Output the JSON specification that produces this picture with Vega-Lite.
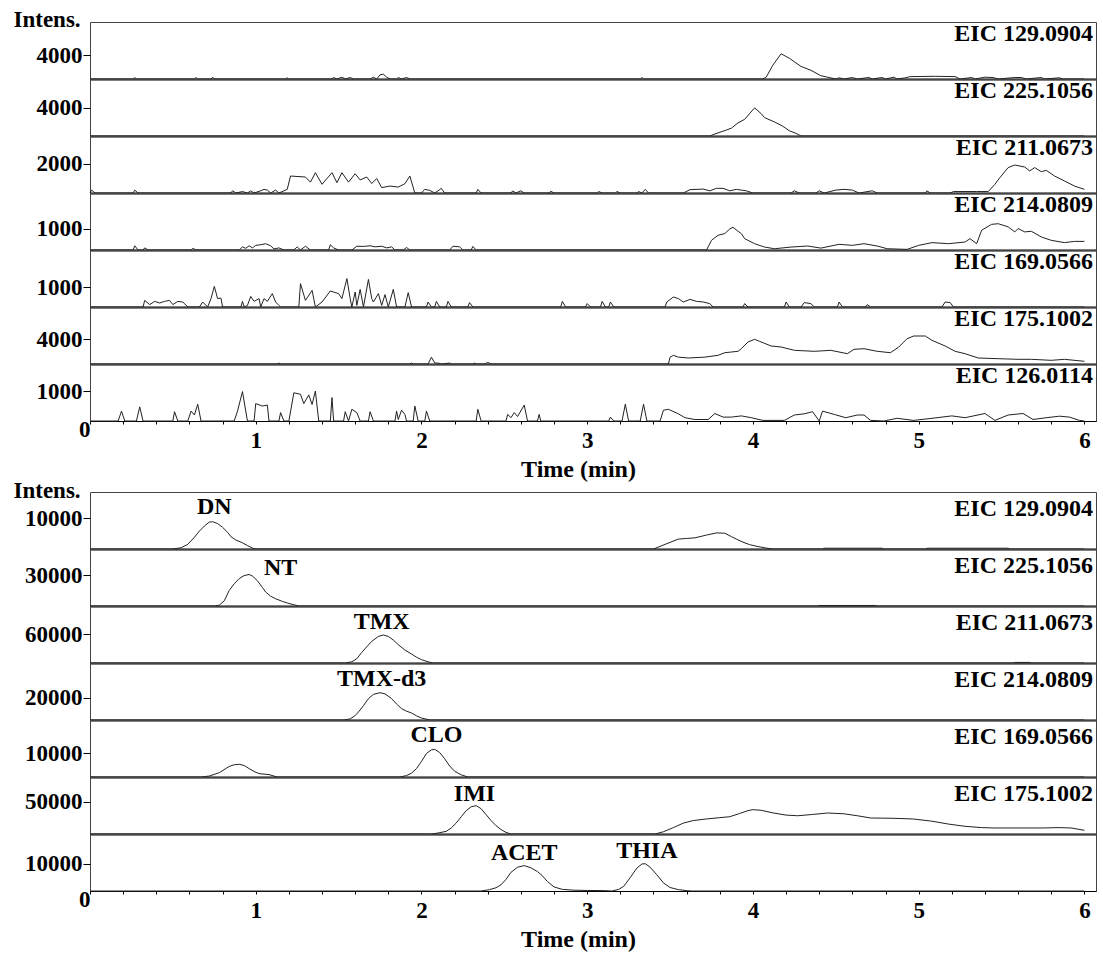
{
  "$schema": "https://vega.github.io/schema/vega-lite/v6.json",
  "padding": {"left": 12, "top": 7, "right": 5, "bottom": 5},
  "background": "white",
  "config": {
    "view": {"stroke": "#444", "strokeWidth": 1},
    "axis": {"grid": false, "labelFont": "Liberation Serif", "labelFontWeight": "bold", "labelColor": "black", "titleFont": "Liberation Serif", "titleFontWeight": "bold", "titleColor": "black", "tickColor": "black", "domainColor": "black"},
    "axisY": {"domain": false, "tickSize": 7, "labelPadding": 1, "labelFontSize": 23},
    "axisX": {"labels": false, "ticks": false, "domainWidth": 2},
    "line": {"color": "#222", "strokeWidth": 1},
    "text": {"font": "Liberation Serif", "fontWeight": "bold", "fontSize": 24, "color": "black"}
  },
  "datasets": {
    "t1": [{"t":0,"v":0},{"t":0.26,"v":0},{"t":0.27,"v":250},{"t":0.28,"v":0},{"t":0.63,"v":0},{"t":0.64,"v":250},{"t":0.65,"v":0},{"t":0.73,"v":0},{"t":0.74,"v":300},{"t":0.75,"v":0},{"t":1.18,"v":0},{"t":1.19,"v":200},{"t":1.2,"v":0},{"t":1.46,"v":0},{"t":1.47,"v":250},{"t":1.49,"v":0},{"t":1.52,"v":300},{"t":1.54,"v":0},{"t":1.57,"v":250},{"t":1.59,"v":0},{"t":1.69,"v":0},{"t":1.71,"v":300},{"t":1.73,"v":0},{"t":1.75,"v":700},{"t":1.77,"v":800},{"t":1.79,"v":300},{"t":1.81,"v":0},{"t":1.85,"v":0},{"t":1.86,"v":250},{"t":1.88,"v":0},{"t":1.91,"v":250},{"t":1.93,"v":0},{"t":3.32,"v":0},{"t":3.33,"v":250},{"t":3.34,"v":0},{"t":4.06,"v":0},{"t":4.08,"v":300},{"t":4.12,"v":2300},{"t":4.17,"v":4200},{"t":4.22,"v":3450},{"t":4.29,"v":2100},{"t":4.35,"v":1450},{"t":4.41,"v":550},{"t":4.45,"v":300},{"t":4.5,"v":0},{"t":4.52,"v":200},{"t":4.55,"v":0},{"t":4.6,"v":250},{"t":4.63,"v":0},{"t":4.7,"v":250},{"t":4.72,"v":0},{"t":4.78,"v":250},{"t":4.8,"v":0},{"t":4.85,"v":300},{"t":4.87,"v":0},{"t":4.92,"v":200},{"t":4.95,"v":400},{"t":5.1,"v":450},{"t":5.22,"v":400},{"t":5.25,"v":0},{"t":5.32,"v":250},{"t":5.34,"v":0},{"t":5.4,"v":300},{"t":5.45,"v":250},{"t":5.48,"v":0},{"t":5.58,"v":250},{"t":5.62,"v":250},{"t":5.65,"v":0},{"t":5.74,"v":250},{"t":5.76,"v":0},{"t":5.85,"v":200},{"t":5.87,"v":0},{"t":6.0,"v":0}],
    "t2": [{"t":0,"v":0},{"t":3.74,"v":0},{"t":3.77,"v":280},{"t":3.84,"v":840},{"t":3.87,"v":1100},{"t":3.91,"v":1840},{"t":3.95,"v":2340},{"t":4.01,"v":3950},{"t":4.05,"v":3130},{"t":4.07,"v":2580},{"t":4.13,"v":1970},{"t":4.18,"v":1380},{"t":4.22,"v":730},{"t":4.26,"v":370},{"t":4.29,"v":0},{"t":6.0,"v":0}],
    "t3": [{"t":0,"v":0},{"t":0.01,"v":200},{"t":0.03,"v":0},{"t":0.26,"v":0},{"t":0.27,"v":200},{"t":0.29,"v":0},{"t":0.85,"v":0},{"t":0.86,"v":150},{"t":0.88,"v":0},{"t":0.92,"v":100},{"t":0.95,"v":0},{"t":0.97,"v":150},{"t":0.99,"v":0},{"t":1.03,"v":150},{"t":1.05,"v":250},{"t":1.07,"v":200},{"t":1.09,"v":0},{"t":1.12,"v":200},{"t":1.14,"v":0},{"t":1.17,"v":150},{"t":1.19,"v":250},{"t":1.21,"v":1170},{"t":1.3,"v":1100},{"t":1.33,"v":750},{"t":1.36,"v":1400},{"t":1.4,"v":600},{"t":1.46,"v":1400},{"t":1.49,"v":710},{"t":1.52,"v":1400},{"t":1.56,"v":750},{"t":1.6,"v":1330},{"t":1.63,"v":900},{"t":1.67,"v":1100},{"t":1.7,"v":650},{"t":1.73,"v":1000},{"t":1.76,"v":370},{"t":1.81,"v":480},{"t":1.86,"v":410},{"t":1.9,"v":640},{"t":1.93,"v":1170},{"t":1.96,"v":0},{"t":2.0,"v":0},{"t":2.02,"v":250},{"t":2.05,"v":180},{"t":2.08,"v":0},{"t":2.1,"v":150},{"t":2.12,"v":320},{"t":2.14,"v":0},{"t":2.33,"v":0},{"t":2.34,"v":250},{"t":2.36,"v":0},{"t":2.54,"v":0},{"t":2.55,"v":140},{"t":2.57,"v":0},{"t":2.6,"v":150},{"t":2.62,"v":0},{"t":2.77,"v":0},{"t":2.78,"v":120},{"t":2.8,"v":0},{"t":3.06,"v":0},{"t":3.07,"v":100},{"t":3.09,"v":0},{"t":3.17,"v":0},{"t":3.18,"v":100},{"t":3.2,"v":0},{"t":3.3,"v":0},{"t":3.31,"v":100},{"t":3.33,"v":0},{"t":3.35,"v":250},{"t":3.37,"v":0},{"t":3.58,"v":0},{"t":3.62,"v":230},{"t":3.7,"v":270},{"t":3.74,"v":150},{"t":3.78,"v":320},{"t":3.82,"v":320},{"t":3.86,"v":150},{"t":3.9,"v":250},{"t":3.96,"v":150},{"t":4.0,"v":0},{"t":4.23,"v":0},{"t":4.25,"v":150},{"t":4.28,"v":0},{"t":4.38,"v":0},{"t":4.4,"v":150},{"t":4.43,"v":0},{"t":4.5,"v":200},{"t":4.55,"v":250},{"t":4.6,"v":200},{"t":4.64,"v":0},{"t":4.72,"v":150},{"t":4.75,"v":0},{"t":5.04,"v":0},{"t":5.05,"v":150},{"t":5.07,"v":0},{"t":5.19,"v":0},{"t":5.21,"v":100},{"t":5.35,"v":100},{"t":5.42,"v":100},{"t":5.46,"v":600},{"t":5.49,"v":1060},{"t":5.54,"v":1750},{"t":5.58,"v":1930},{"t":5.64,"v":1790},{"t":5.67,"v":1520},{"t":5.7,"v":1750},{"t":5.74,"v":1470},{"t":5.77,"v":1560},{"t":5.82,"v":1170},{"t":5.88,"v":830},{"t":5.94,"v":480},{"t":6.0,"v":250}],
    "t4": [{"t":0,"v":0},{"t":0.26,"v":0},{"t":0.27,"v":200},{"t":0.29,"v":0},{"t":0.32,"v":0},{"t":0.33,"v":100},{"t":0.35,"v":0},{"t":0.61,"v":0},{"t":0.62,"v":80},{"t":0.64,"v":0},{"t":0.9,"v":0},{"t":0.92,"v":150},{"t":0.94,"v":80},{"t":0.96,"v":200},{"t":0.98,"v":100},{"t":1.0,"v":220},{"t":1.03,"v":250},{"t":1.06,"v":300},{"t":1.09,"v":200},{"t":1.11,"v":50},{"t":1.14,"v":100},{"t":1.17,"v":0},{"t":1.23,"v":0},{"t":1.25,"v":150},{"t":1.27,"v":0},{"t":1.3,"v":180},{"t":1.33,"v":0},{"t":1.44,"v":0},{"t":1.45,"v":250},{"t":1.47,"v":100},{"t":1.5,"v":0},{"t":1.58,"v":0},{"t":1.61,"v":180},{"t":1.65,"v":170},{"t":1.69,"v":200},{"t":1.72,"v":150},{"t":1.76,"v":180},{"t":1.79,"v":100},{"t":1.82,"v":150},{"t":1.84,"v":0},{"t":1.89,"v":0},{"t":1.91,"v":120},{"t":1.93,"v":0},{"t":2.17,"v":0},{"t":2.19,"v":180},{"t":2.23,"v":150},{"t":2.25,"v":0},{"t":2.3,"v":0},{"t":2.31,"v":170},{"t":2.33,"v":0},{"t":3.72,"v":0},{"t":3.75,"v":460},{"t":3.79,"v":700},{"t":3.83,"v":780},{"t":3.86,"v":1000},{"t":3.88,"v":1080},{"t":3.91,"v":890},{"t":3.93,"v":780},{"t":3.95,"v":540},{"t":4.01,"v":300},{"t":4.07,"v":140},{"t":4.13,"v":60},{"t":4.23,"v":140},{"t":4.33,"v":190},{"t":4.41,"v":90},{"t":4.52,"v":270},{"t":4.6,"v":220},{"t":4.67,"v":300},{"t":4.75,"v":190},{"t":4.81,"v":60},{"t":4.93,"v":30},{"t":5.0,"v":220},{"t":5.08,"v":350},{"t":5.18,"v":300},{"t":5.28,"v":380},{"t":5.31,"v":540},{"t":5.35,"v":300},{"t":5.38,"v":940},{"t":5.44,"v":1220},{"t":5.48,"v":1250},{"t":5.54,"v":1100},{"t":5.58,"v":860},{"t":5.6,"v":1020},{"t":5.64,"v":860},{"t":5.68,"v":890},{"t":5.74,"v":620},{"t":5.8,"v":460},{"t":5.88,"v":350},{"t":5.94,"v":410},{"t":6.0,"v":410}],
    "t5": [{"t":0,"v":0},{"t":0.32,"v":0},{"t":0.33,"v":330},{"t":0.36,"v":120},{"t":0.39,"v":280},{"t":0.42,"v":200},{"t":0.45,"v":280},{"t":0.48,"v":330},{"t":0.5,"v":120},{"t":0.53,"v":280},{"t":0.56,"v":250},{"t":0.59,"v":0},{"t":0.66,"v":0},{"t":0.68,"v":250},{"t":0.71,"v":0},{"t":0.73,"v":420},{"t":0.75,"v":1030},{"t":0.77,"v":420},{"t":0.79,"v":450},{"t":0.8,"v":0},{"t":0.91,"v":0},{"t":0.92,"v":280},{"t":0.93,"v":0},{"t":0.95,"v":80},{"t":0.97,"v":530},{"t":0.99,"v":280},{"t":1.02,"v":420},{"t":1.03,"v":0},{"t":1.05,"v":420},{"t":1.07,"v":280},{"t":1.1,"v":670},{"t":1.12,"v":250},{"t":1.14,"v":80},{"t":1.15,"v":0},{"t":1.26,"v":0},{"t":1.27,"v":1170},{"t":1.3,"v":330},{"t":1.34,"v":830},{"t":1.36,"v":0},{"t":1.4,"v":250},{"t":1.45,"v":800},{"t":1.5,"v":670},{"t":1.52,"v":420},{"t":1.55,"v":1420},{"t":1.57,"v":420},{"t":1.58,"v":0},{"t":1.6,"v":750},{"t":1.61,"v":80},{"t":1.63,"v":880},{"t":1.65,"v":0},{"t":1.68,"v":1380},{"t":1.7,"v":420},{"t":1.71,"v":250},{"t":1.74,"v":670},{"t":1.76,"v":80},{"t":1.78,"v":620},{"t":1.8,"v":0},{"t":1.83,"v":880},{"t":1.85,"v":0},{"t":1.9,"v":0},{"t":1.92,"v":720},{"t":1.94,"v":0},{"t":2.03,"v":0},{"t":2.04,"v":250},{"t":2.06,"v":0},{"t":2.08,"v":0},{"t":2.09,"v":280},{"t":2.11,"v":0},{"t":2.15,"v":0},{"t":2.16,"v":280},{"t":2.18,"v":0},{"t":2.28,"v":0},{"t":2.29,"v":220},{"t":2.31,"v":0},{"t":2.84,"v":0},{"t":2.85,"v":280},{"t":2.87,"v":0},{"t":2.99,"v":0},{"t":3.0,"v":170},{"t":3.02,"v":0},{"t":3.08,"v":0},{"t":3.09,"v":280},{"t":3.11,"v":0},{"t":3.13,"v":0},{"t":3.14,"v":250},{"t":3.16,"v":0},{"t":3.47,"v":0},{"t":3.48,"v":250},{"t":3.52,"v":500},{"t":3.55,"v":420},{"t":3.58,"v":250},{"t":3.62,"v":380},{"t":3.66,"v":280},{"t":3.7,"v":250},{"t":3.74,"v":170},{"t":3.76,"v":0},{"t":3.94,"v":0},{"t":3.95,"v":170},{"t":3.97,"v":0},{"t":4.19,"v":0},{"t":4.2,"v":250},{"t":4.22,"v":0},{"t":4.29,"v":0},{"t":4.31,"v":220},{"t":4.35,"v":170},{"t":4.37,"v":0},{"t":4.51,"v":0},{"t":4.52,"v":250},{"t":4.54,"v":0},{"t":4.68,"v":0},{"t":4.69,"v":120},{"t":4.71,"v":0},{"t":5.14,"v":0},{"t":5.16,"v":250},{"t":5.19,"v":220},{"t":5.21,"v":0},{"t":6.0,"v":0}],
    "t6": [{"t":0,"v":0},{"t":1.13,"v":0},{"t":1.14,"v":160},{"t":1.15,"v":0},{"t":1.93,"v":0},{"t":1.94,"v":150},{"t":1.95,"v":0},{"t":2.04,"v":0},{"t":2.06,"v":1100},{"t":2.08,"v":150},{"t":2.1,"v":150},{"t":2.12,"v":0},{"t":2.17,"v":150},{"t":2.18,"v":0},{"t":2.31,"v":0},{"t":2.32,"v":150},{"t":2.33,"v":0},{"t":2.38,"v":0},{"t":2.4,"v":250},{"t":2.42,"v":0},{"t":3.49,"v":0},{"t":3.5,"v":1100},{"t":3.52,"v":1390},{"t":3.55,"v":1100},{"t":3.61,"v":960},{"t":3.71,"v":1100},{"t":3.79,"v":1390},{"t":3.83,"v":1810},{"t":3.87,"v":1920},{"t":3.91,"v":2030},{"t":3.93,"v":2450},{"t":3.97,"v":3520},{"t":4.01,"v":3950},{"t":4.04,"v":3630},{"t":4.11,"v":2880},{"t":4.17,"v":2720},{"t":4.25,"v":2190},{"t":4.37,"v":2030},{"t":4.47,"v":2190},{"t":4.57,"v":1650},{"t":4.61,"v":2350},{"t":4.67,"v":2450},{"t":4.75,"v":2030},{"t":4.83,"v":1810},{"t":4.88,"v":2720},{"t":4.93,"v":4050},{"t":4.97,"v":4480},{"t":5.04,"v":4480},{"t":5.08,"v":3790},{"t":5.16,"v":2880},{"t":5.22,"v":2030},{"t":5.28,"v":1650},{"t":5.36,"v":960},{"t":5.48,"v":850},{"t":5.6,"v":750},{"t":5.68,"v":750},{"t":5.8,"v":590},{"t":5.88,"v":750},{"t":6.0,"v":430}],
    "t7": [{"t":0,"v":0},{"t":0.17,"v":0},{"t":0.19,"v":330},{"t":0.21,"v":0},{"t":0.28,"v":0},{"t":0.3,"v":470},{"t":0.32,"v":0},{"t":0.5,"v":0},{"t":0.51,"v":310},{"t":0.53,"v":0},{"t":0.59,"v":0},{"t":0.61,"v":330},{"t":0.63,"v":200},{"t":0.65,"v":560},{"t":0.67,"v":0},{"t":0.87,"v":0},{"t":0.89,"v":330},{"t":0.92,"v":980},{"t":0.95,"v":0},{"t":0.99,"v":0},{"t":1.0,"v":580},{"t":1.04,"v":500},{"t":1.07,"v":530},{"t":1.08,"v":0},{"t":1.14,"v":0},{"t":1.15,"v":280},{"t":1.17,"v":0},{"t":1.2,"v":0},{"t":1.23,"v":940},{"t":1.27,"v":890},{"t":1.29,"v":580},{"t":1.32,"v":870},{"t":1.34,"v":550},{"t":1.36,"v":1000},{"t":1.38,"v":0},{"t":1.45,"v":0},{"t":1.46,"v":780},{"t":1.47,"v":0},{"t":1.53,"v":0},{"t":1.54,"v":310},{"t":1.56,"v":0},{"t":1.58,"v":390},{"t":1.61,"v":280},{"t":1.63,"v":0},{"t":1.68,"v":0},{"t":1.69,"v":310},{"t":1.71,"v":0},{"t":1.84,"v":0},{"t":1.85,"v":330},{"t":1.86,"v":50},{"t":1.88,"v":360},{"t":1.9,"v":220},{"t":1.91,"v":0},{"t":1.95,"v":0},{"t":1.96,"v":500},{"t":1.98,"v":0},{"t":2.02,"v":0},{"t":2.03,"v":330},{"t":2.05,"v":0},{"t":2.33,"v":0},{"t":2.34,"v":390},{"t":2.36,"v":0},{"t":2.51,"v":0},{"t":2.52,"v":220},{"t":2.54,"v":110},{"t":2.56,"v":280},{"t":2.58,"v":150},{"t":2.62,"v":530},{"t":2.64,"v":0},{"t":2.7,"v":0},{"t":2.71,"v":220},{"t":2.72,"v":0},{"t":3.13,"v":0},{"t":3.14,"v":130},{"t":3.16,"v":0},{"t":3.21,"v":0},{"t":3.23,"v":560},{"t":3.25,"v":0},{"t":3.32,"v":0},{"t":3.34,"v":560},{"t":3.36,"v":0},{"t":3.44,"v":0},{"t":3.46,"v":360},{"t":3.49,"v":390},{"t":3.55,"v":240},{"t":3.59,"v":110},{"t":3.65,"v":50},{"t":3.73,"v":50},{"t":3.77,"v":250},{"t":3.82,"v":130},{"t":3.87,"v":130},{"t":3.93,"v":170},{"t":3.99,"v":110},{"t":4.06,"v":20},{"t":4.19,"v":20},{"t":4.25,"v":200},{"t":4.31,"v":240},{"t":4.36,"v":310},{"t":4.4,"v":0},{"t":4.42,"v":330},{"t":4.49,"v":220},{"t":4.56,"v":110},{"t":4.63,"v":200},{"t":4.67,"v":200},{"t":4.71,"v":20},{"t":4.79,"v":0},{"t":4.87,"v":90},{"t":4.97,"v":20},{"t":5.08,"v":90},{"t":5.2,"v":170},{"t":5.28,"v":110},{"t":5.4,"v":250},{"t":5.46,"v":20},{"t":5.54,"v":200},{"t":5.63,"v":250},{"t":5.69,"v":50},{"t":5.77,"v":110},{"t":5.85,"v":160},{"t":5.91,"v":130},{"t":5.97,"v":20},{"t":6.0,"v":0}],
    "b1": [{"t":0,"v":0},{"t":0.5,"v":0},{"t":0.55,"v":400},{"t":0.59,"v":1500},{"t":0.63,"v":3800},{"t":0.66,"v":5800},{"t":0.69,"v":7400},{"t":0.72,"v":8700},{"t":0.74,"v":8800},{"t":0.77,"v":8200},{"t":0.8,"v":7000},{"t":0.83,"v":5400},{"t":0.85,"v":4000},{"t":0.88,"v":2900},{"t":0.92,"v":2000},{"t":0.95,"v":1100},{"t":0.98,"v":300},{"t":1.0,"v":0},{"t":3.4,"v":0},{"t":3.47,"v":1500},{"t":3.55,"v":3200},{"t":3.6,"v":3400},{"t":3.65,"v":3600},{"t":3.72,"v":4500},{"t":3.78,"v":5200},{"t":3.83,"v":5100},{"t":3.87,"v":4000},{"t":3.9,"v":3200},{"t":3.94,"v":2200},{"t":3.98,"v":1400},{"t":4.03,"v":800},{"t":4.08,"v":300},{"t":4.12,"v":0},{"t":4.42,"v":0},{"t":4.43,"v":250},{"t":4.78,"v":250},{"t":4.79,"v":0},{"t":5.04,"v":0},{"t":5.05,"v":250},{"t":5.54,"v":250},{"t":5.55,"v":0},{"t":6.0,"v":0}],
    "b2": [{"t":0,"v":0},{"t":0.75,"v":0},{"t":0.78,"v":800},{"t":0.81,"v":5000},{"t":0.84,"v":15000},{"t":0.87,"v":21500},{"t":0.9,"v":26500},{"t":0.93,"v":29500},{"t":0.96,"v":30500},{"t":0.98,"v":29000},{"t":1.01,"v":24500},{"t":1.04,"v":18000},{"t":1.06,"v":13500},{"t":1.09,"v":9500},{"t":1.12,"v":7000},{"t":1.16,"v":4500},{"t":1.19,"v":2900},{"t":1.23,"v":1200},{"t":1.26,"v":0},{"t":4.39,"v":0},{"t":4.4,"v":500},{"t":4.74,"v":500},{"t":4.75,"v":0},{"t":6.0,"v":0}],
    "b3": [{"t":0,"v":0},{"t":1.54,"v":0},{"t":1.58,"v":2500},{"t":1.61,"v":9000},{"t":1.64,"v":22000},{"t":1.67,"v":33500},{"t":1.7,"v":44800},{"t":1.74,"v":55000},{"t":1.77,"v":58000},{"t":1.8,"v":55000},{"t":1.83,"v":47600},{"t":1.86,"v":38000},{"t":1.9,"v":26900},{"t":1.94,"v":18600},{"t":1.97,"v":12000},{"t":2.0,"v":6900},{"t":2.04,"v":2500},{"t":2.07,"v":0},{"t":5.57,"v":0},{"t":5.58,"v":1200},{"t":5.67,"v":1200},{"t":5.68,"v":0},{"t":6.0,"v":0}],
    "b4": [{"t":0,"v":0},{"t":1.53,"v":0},{"t":1.57,"v":1000},{"t":1.6,"v":4000},{"t":1.62,"v":7300},{"t":1.65,"v":13000},{"t":1.68,"v":19400},{"t":1.71,"v":23300},{"t":1.75,"v":24800},{"t":1.78,"v":23800},{"t":1.82,"v":19400},{"t":1.85,"v":14500},{"t":1.88,"v":10300},{"t":1.91,"v":8000},{"t":1.94,"v":6400},{"t":1.97,"v":3800},{"t":2.0,"v":1800},{"t":2.05,"v":0},{"t":6.0,"v":0}],
    "b5": [{"t":0,"v":0},{"t":0.67,"v":0},{"t":0.72,"v":400},{"t":0.78,"v":1800},{"t":0.84,"v":4400},{"t":0.87,"v":5100},{"t":0.9,"v":5300},{"t":0.93,"v":4800},{"t":0.96,"v":3500},{"t":0.99,"v":2300},{"t":1.02,"v":1400},{"t":1.08,"v":1000},{"t":1.13,"v":0},{"t":1.87,"v":0},{"t":1.91,"v":600},{"t":1.94,"v":1600},{"t":1.97,"v":3500},{"t":2.0,"v":6500},{"t":2.03,"v":9800},{"t":2.06,"v":11300},{"t":2.08,"v":11500},{"t":2.11,"v":10200},{"t":2.14,"v":7600},{"t":2.17,"v":4600},{"t":2.2,"v":2400},{"t":2.24,"v":900},{"t":2.28,"v":0},{"t":6.0,"v":0}],
    "b6": [{"t":0,"v":0},{"t":2.06,"v":0},{"t":2.1,"v":1500},{"t":2.15,"v":4200},{"t":2.18,"v":9500},{"t":2.21,"v":17200},{"t":2.24,"v":27000},{"t":2.27,"v":36500},{"t":2.3,"v":42500},{"t":2.33,"v":44300},{"t":2.36,"v":39500},{"t":2.39,"v":30200},{"t":2.42,"v":21000},{"t":2.45,"v":13000},{"t":2.48,"v":7000},{"t":2.51,"v":2500},{"t":2.54,"v":0},{"t":3.41,"v":0},{"t":3.46,"v":3500},{"t":3.52,"v":10000},{"t":3.58,"v":17000},{"t":3.64,"v":21000},{"t":3.72,"v":23500},{"t":3.8,"v":25500},{"t":3.86,"v":27000},{"t":3.92,"v":32000},{"t":3.97,"v":36500},{"t":4.0,"v":38000},{"t":4.05,"v":37000},{"t":4.12,"v":33000},{"t":4.2,"v":29500},{"t":4.27,"v":28500},{"t":4.36,"v":30500},{"t":4.45,"v":32800},{"t":4.55,"v":31500},{"t":4.63,"v":28500},{"t":4.71,"v":25000},{"t":4.85,"v":24500},{"t":4.97,"v":23400},{"t":5.08,"v":20000},{"t":5.18,"v":15500},{"t":5.28,"v":12000},{"t":5.38,"v":10000},{"t":5.45,"v":9400},{"t":5.6,"v":9400},{"t":5.75,"v":9400},{"t":5.84,"v":10000},{"t":5.92,"v":9400},{"t":6.0,"v":5800}],
    "b7": [{"t":0,"v":0},{"t":2.36,"v":0},{"t":2.41,"v":500},{"t":2.45,"v":1200},{"t":2.48,"v":2300},{"t":2.51,"v":4300},{"t":2.54,"v":6900},{"t":2.58,"v":8800},{"t":2.62,"v":9400},{"t":2.66,"v":8600},{"t":2.7,"v":7200},{"t":2.73,"v":5600},{"t":2.76,"v":3500},{"t":2.8,"v":1500},{"t":2.85,"v":600},{"t":2.92,"v":300},{"t":3.0,"v":200},{"t":3.1,"v":150},{"t":3.15,"v":0},{"t":3.19,"v":600},{"t":3.22,"v":1700},{"t":3.26,"v":5000},{"t":3.3,"v":8500},{"t":3.33,"v":10000},{"t":3.35,"v":10100},{"t":3.38,"v":8800},{"t":3.42,"v":6000},{"t":3.46,"v":3000},{"t":3.5,"v":1300},{"t":3.55,"v":500},{"t":3.6,"v":150},{"t":3.63,"v":0},{"t":6.0,"v":0}],
    "peaks": [
      {"s":"b1","name":"DN","t":0.75,"v":13550},
      {"s":"b2","name":"NT","t":1.15,"v":36770},
      {"s":"b3","name":"TMX","t":1.76,"v":84800},
      {"s":"b4","name":"TMX-d3","t":1.76,"v":37300},
      {"s":"b5","name":"CLO","t":2.09,"v":17500},
      {"s":"b6","name":"IMI","t":2.32,"v":62500},
      {"s":"b7","name":"ACET","t":2.62,"v":14070},
      {"s":"b7","name":"THIA","t":3.36,"v":14800}
    ],
    "eic": [
      {"s":"t1","label":"EIC 129.0904"},{"s":"t2","label":"EIC 225.1056"},{"s":"t3","label":"EIC 211.0673"},{"s":"t4","label":"EIC 214.0809"},
      {"s":"t5","label":"EIC 169.0566"},{"s":"t6","label":"EIC 175.1002"},{"s":"t7","label":"EIC 126.0114"},
      {"s":"b1","label":"EIC 129.0904"},{"s":"b2","label":"EIC 225.1056"},{"s":"b3","label":"EIC 211.0673"},{"s":"b4","label":"EIC 214.0809"},
      {"s":"b5","label":"EIC 169.0566"},{"s":"b6","label":"EIC 175.1002"},{"s":"b7","label":"EIC 126.0114"}
    ]
  },
  "spacing": -4,
  "vconcat": [
    {
      "spacing": 0,
      "bounds": "flush",
      "resolve": {"scale": {"x": "independent", "y": "independent"}},
      "vconcat": [
        {"width": 1006, "height": 57, "layer": [
          {"data": {"name": "t1"}, "mark": "line", "encoding": {
            "x": {"field": "t", "type": "quantitative", "scale": {"domain": [0, 6.07], "nice": false, "zero": false}, "axis": {"title": null}},
            "y": {"field": "v", "type": "quantitative", "scale": {"domain": [0, 9500], "nice": false}, "axis": {"values": [4000], "format": "d", "title": "Intens.", "titleAngle": 0, "titleAlign": "left", "titleBaseline": "alphabetic", "titleX": -77, "titleY": 4, "titleFontSize": 23}}}},
          {"data": {"name": "eic"}, "transform": [{"filter": "datum.s === 't1'"}], "mark": {"type": "text", "align": "right", "baseline": "top", "dx": -3, "dy": 0}, "encoding": {"text": {"field": "label"}, "x": {"datum": 6.07}, "y": {"datum": 9500}}}
        ]},
        {"width": 1006, "height": 57, "layer": [
          {"data": {"name": "t2"}, "mark": "line", "encoding": {
            "x": {"field": "t", "type": "quantitative", "scale": {"domain": [0, 6.07], "nice": false, "zero": false}, "axis": {"title": null}},
            "y": {"field": "v", "type": "quantitative", "scale": {"domain": [0, 8000], "nice": false}, "axis": {"values": [4000], "format": "d", "title": null}}}},
          {"data": {"name": "eic"}, "transform": [{"filter": "datum.s === 't2'"}], "mark": {"type": "text", "align": "right", "baseline": "top", "dx": -3, "dy": 0}, "encoding": {"text": {"field": "label"}, "x": {"datum": 6.07}, "y": {"datum": 8000}}}
        ]},
        {"width": 1006, "height": 57, "layer": [
          {"data": {"name": "t3"}, "mark": "line", "encoding": {
            "x": {"field": "t", "type": "quantitative", "scale": {"domain": [0, 6.07], "nice": false, "zero": false}, "axis": {"title": null}},
            "y": {"field": "v", "type": "quantitative", "scale": {"domain": [0, 3930], "nice": false}, "axis": {"values": [2000], "format": "d", "title": null}}}},
          {"data": {"name": "eic"}, "transform": [{"filter": "datum.s === 't3'"}], "mark": {"type": "text", "align": "right", "baseline": "top", "dx": -3, "dy": 0}, "encoding": {"text": {"field": "label"}, "x": {"datum": 6.07}, "y": {"datum": 3930}}}
        ]},
        {"width": 1006, "height": 57, "layer": [
          {"data": {"name": "t4"}, "mark": "line", "encoding": {
            "x": {"field": "t", "type": "quantitative", "scale": {"domain": [0, 6.07], "nice": false, "zero": false}, "axis": {"title": null}},
            "y": {"field": "v", "type": "quantitative", "scale": {"domain": [0, 2710], "nice": false}, "axis": {"values": [1000], "format": "d", "title": null}}}},
          {"data": {"name": "eic"}, "transform": [{"filter": "datum.s === 't4'"}], "mark": {"type": "text", "align": "right", "baseline": "top", "dx": -3, "dy": 0}, "encoding": {"text": {"field": "label"}, "x": {"datum": 6.07}, "y": {"datum": 2710}}}
        ]},
        {"width": 1006, "height": 57, "layer": [
          {"data": {"name": "t5"}, "mark": "line", "encoding": {
            "x": {"field": "t", "type": "quantitative", "scale": {"domain": [0, 6.07], "nice": false, "zero": false}, "axis": {"title": null}},
            "y": {"field": "v", "type": "quantitative", "scale": {"domain": [0, 2850], "nice": false}, "axis": {"values": [1000], "format": "d", "title": null}}}},
          {"data": {"name": "eic"}, "transform": [{"filter": "datum.s === 't5'"}], "mark": {"type": "text", "align": "right", "baseline": "top", "dx": -3, "dy": 0}, "encoding": {"text": {"field": "label"}, "x": {"datum": 6.07}, "y": {"datum": 2850}}}
        ]},
        {"width": 1006, "height": 57, "layer": [
          {"data": {"name": "t6"}, "mark": "line", "encoding": {
            "x": {"field": "t", "type": "quantitative", "scale": {"domain": [0, 6.07], "nice": false, "zero": false}, "axis": {"title": null}},
            "y": {"field": "v", "type": "quantitative", "scale": {"domain": [0, 9120], "nice": false}, "axis": {"values": [4000], "format": "d", "title": null}}}},
          {"data": {"name": "eic"}, "transform": [{"filter": "datum.s === 't6'"}], "mark": {"type": "text", "align": "right", "baseline": "top", "dx": -3, "dy": 0}, "encoding": {"text": {"field": "label"}, "x": {"datum": 6.07}, "y": {"datum": 9120}}}
        ]},
        {"width": 1006, "height": 57, "layer": [
          {"data": {"name": "t7"}, "mark": "line", "encoding": {
            "x": {"field": "t", "type": "quantitative", "scale": {"domain": [0, 6.07], "nice": false, "zero": false},
                  "axis": {"title": "Time (min)", "titleFontSize": 24, "titlePadding": 5, "titleX": 488,
                           "labels": true, "ticks": true, "tickSize": 3, "labelPadding": 5, "labelFontSize": 23, "domainWidth": 1,
                           "labelOverlap": false, "labelFlush": false,
                           "values": [0,0.2,0.4,0.6,0.8,1,1.2,1.4,1.6,1.8,2,2.2,2.4,2.6,2.8,3,3.2,3.4,3.6,3.8,4,4.2,4.4,4.6,4.8,5,5.2,5.4,5.6,5.8,6],
                           "labelExpr": "datum.value % 1 === 0 ? format(datum.value, 'd') : ''",
                           "labelAlign": {"condition": {"test": "datum.value === 0", "value": "right"}, "value": "center"},
                           "labelBaseline": {"condition": {"test": "datum.value === 0", "value": "middle"}, "value": "top"}}},
            "y": {"field": "v", "type": "quantitative", "scale": {"domain": [0, 1900], "nice": false}, "axis": {"values": [1000], "format": "d", "title": null}}}},
          {"data": {"name": "eic"}, "transform": [{"filter": "datum.s === 't7'"}], "mark": {"type": "text", "align": "right", "baseline": "top", "dx": -3, "dy": 0},
           "encoding": {"text": {"field": "label"},
            "x": {"datum": 6.07, "type": "quantitative",
                  "axis": {"title": "Time (min)", "titleFontSize": 24, "titlePadding": 5, "titleX": 488,
                           "labels": true, "ticks": true, "tickSize": 3, "labelPadding": 5, "labelFontSize": 23, "domainWidth": 1,
                           "labelOverlap": false, "labelFlush": false,
                           "values": [0,0.2,0.4,0.6,0.8,1,1.2,1.4,1.6,1.8,2,2.2,2.4,2.6,2.8,3,3.2,3.4,3.6,3.8,4,4.2,4.4,4.6,4.8,5,5.2,5.4,5.6,5.8,6],
                           "labelExpr": "datum.value % 1 === 0 ? format(datum.value, 'd') : ''",
                           "labelAlign": {"condition": {"test": "datum.value === 0", "value": "right"}, "value": "center"},
                           "labelBaseline": {"condition": {"test": "datum.value === 0", "value": "middle"}, "value": "top"}}},
            "y": {"datum": 1900, "type": "quantitative", "axis": {"values": [1000], "format": "d", "title": null}}}}
        ]}
      ]
    },
    {
      "spacing": 0,
      "bounds": "flush",
      "resolve": {"scale": {"x": "independent", "y": "independent"}},
      "vconcat": [
        {"width": 1006, "height": 57, "layer": [
          {"data": {"name": "b1"}, "mark": "line", "encoding": {
            "x": {"field": "t", "type": "quantitative", "scale": {"domain": [0, 6.07], "nice": false, "zero": false}, "axis": {"title": null}},
            "y": {"field": "v", "type": "quantitative", "scale": {"domain": [0, 18400], "nice": false}, "axis": {"values": [10000], "format": "d", "title": "Intens.", "titleAngle": 0, "titleAlign": "left", "titleBaseline": "alphabetic", "titleX": -77, "titleY": 5, "titleFontSize": 23}}}},
          {"data": {"name": "peaks"}, "transform": [{"filter": "datum.s === 'b1'"}], "mark": {"type": "text", "baseline": "middle"}, "encoding": {"text": {"field": "name"}, "x": {"field": "t", "type": "quantitative"}, "y": {"field": "v", "type": "quantitative"}}},
          {"data": {"name": "eic"}, "transform": [{"filter": "datum.s === 'b1'"}], "mark": {"type": "text", "align": "right", "baseline": "top", "dx": -3, "dy": 5}, "encoding": {"text": {"field": "label"}, "x": {"datum": 6.07}, "y": {"datum": 18400}}}
        ]},
        {"width": 1006, "height": 57, "layer": [
          {"data": {"name": "b2"}, "mark": "line", "encoding": {
            "x": {"field": "t", "type": "quantitative", "scale": {"domain": [0, 6.07], "nice": false, "zero": false}, "axis": {"title": null}},
            "y": {"field": "v", "type": "quantitative", "scale": {"domain": [0, 55200], "nice": false}, "axis": {"values": [30000], "format": "d", "title": null}}}},
          {"data": {"name": "peaks"}, "transform": [{"filter": "datum.s === 'b2'"}], "mark": {"type": "text", "baseline": "middle"}, "encoding": {"text": {"field": "name"}, "x": {"field": "t", "type": "quantitative"}, "y": {"field": "v", "type": "quantitative"}}},
          {"data": {"name": "eic"}, "transform": [{"filter": "datum.s === 'b2'"}], "mark": {"type": "text", "align": "right", "baseline": "top", "dx": -3, "dy": 5}, "encoding": {"text": {"field": "label"}, "x": {"datum": 6.07}, "y": {"datum": 55200}}}
        ]},
        {"width": 1006, "height": 57, "layer": [
          {"data": {"name": "b3"}, "mark": "line", "encoding": {
            "x": {"field": "t", "type": "quantitative", "scale": {"domain": [0, 6.07], "nice": false, "zero": false}, "axis": {"title": null}},
            "y": {"field": "v", "type": "quantitative", "scale": {"domain": [0, 118000], "nice": false}, "axis": {"values": [60000], "format": "d", "title": null}}}},
          {"data": {"name": "peaks"}, "transform": [{"filter": "datum.s === 'b3'"}], "mark": {"type": "text", "baseline": "middle"}, "encoding": {"text": {"field": "name"}, "x": {"field": "t", "type": "quantitative"}, "y": {"field": "v", "type": "quantitative"}}},
          {"data": {"name": "eic"}, "transform": [{"filter": "datum.s === 'b3'"}], "mark": {"type": "text", "align": "right", "baseline": "top", "dx": -3, "dy": 5}, "encoding": {"text": {"field": "label"}, "x": {"datum": 6.07}, "y": {"datum": 118000}}}
        ]},
        {"width": 1006, "height": 57, "layer": [
          {"data": {"name": "b4"}, "mark": "line", "encoding": {
            "x": {"field": "t", "type": "quantitative", "scale": {"domain": [0, 6.07], "nice": false, "zero": false}, "axis": {"title": null}},
            "y": {"field": "v", "type": "quantitative", "scale": {"domain": [0, 51800], "nice": false}, "axis": {"values": [20000], "format": "d", "title": null}}}},
          {"data": {"name": "peaks"}, "transform": [{"filter": "datum.s === 'b4'"}], "mark": {"type": "text", "baseline": "middle"}, "encoding": {"text": {"field": "name"}, "x": {"field": "t", "type": "quantitative"}, "y": {"field": "v", "type": "quantitative"}}},
          {"data": {"name": "eic"}, "transform": [{"filter": "datum.s === 'b4'"}], "mark": {"type": "text", "align": "right", "baseline": "top", "dx": -3, "dy": 5}, "encoding": {"text": {"field": "label"}, "x": {"datum": 6.07}, "y": {"datum": 51800}}}
        ]},
        {"width": 1006, "height": 57, "layer": [
          {"data": {"name": "b5"}, "mark": "line", "encoding": {
            "x": {"field": "t", "type": "quantitative", "scale": {"domain": [0, 6.07], "nice": false, "zero": false}, "axis": {"title": null}},
            "y": {"field": "v", "type": "quantitative", "scale": {"domain": [0, 23750], "nice": false}, "axis": {"values": [10000], "format": "d", "title": null}}}},
          {"data": {"name": "peaks"}, "transform": [{"filter": "datum.s === 'b5'"}], "mark": {"type": "text", "baseline": "middle"}, "encoding": {"text": {"field": "name"}, "x": {"field": "t", "type": "quantitative"}, "y": {"field": "v", "type": "quantitative"}}},
          {"data": {"name": "eic"}, "transform": [{"filter": "datum.s === 'b5'"}], "mark": {"type": "text", "align": "right", "baseline": "top", "dx": -3, "dy": 5}, "encoding": {"text": {"field": "label"}, "x": {"datum": 6.07}, "y": {"datum": 23750}}}
        ]},
        {"width": 1006, "height": 57, "layer": [
          {"data": {"name": "b6"}, "mark": "line", "encoding": {
            "x": {"field": "t", "type": "quantitative", "scale": {"domain": [0, 6.07], "nice": false, "zero": false}, "axis": {"title": null}},
            "y": {"field": "v", "type": "quantitative", "scale": {"domain": [0, 89000], "nice": false}, "axis": {"values": [50000], "format": "d", "title": null}}}},
          {"data": {"name": "peaks"}, "transform": [{"filter": "datum.s === 'b6'"}], "mark": {"type": "text", "baseline": "middle"}, "encoding": {"text": {"field": "name"}, "x": {"field": "t", "type": "quantitative"}, "y": {"field": "v", "type": "quantitative"}}},
          {"data": {"name": "eic"}, "transform": [{"filter": "datum.s === 'b6'"}], "mark": {"type": "text", "align": "right", "baseline": "top", "dx": -3, "dy": 5}, "encoding": {"text": {"field": "label"}, "x": {"datum": 6.07}, "y": {"datum": 89000}}}
        ]},
        {"width": 1006, "height": 57,
         "encoding": {
           "x": {"field": "t", "type": "quantitative", "scale": {"domain": [0, 6.07], "nice": false, "zero": false},
                 "axis": {"title": "Time (min)", "titleFontSize": 24, "titlePadding": 5, "titleX": 488,
                          "labels": true, "ticks": true, "tickSize": 3, "labelPadding": 5, "labelFontSize": 23, "domainWidth": 1,
                          "labelOverlap": false, "labelFlush": false,
                          "values": [0,0.2,0.4,0.6,0.8,1,1.2,1.4,1.6,1.8,2,2.2,2.4,2.6,2.8,3,3.2,3.4,3.6,3.8,4,4.2,4.4,4.6,4.8,5,5.2,5.4,5.6,5.8,6],
                          "labelExpr": "datum.value % 1 === 0 ? format(datum.value, 'd') : ''",
                          "labelAlign": {"condition": {"test": "datum.value === 0", "value": "right"}, "value": "center"},
                          "labelBaseline": {"condition": {"test": "datum.value === 0", "value": "middle"}, "value": "top"}}},
           "y": {"field": "v", "type": "quantitative", "scale": {"domain": [0, 21100], "nice": false}, "axis": {"values": [10000], "format": "d", "title": null}}
         },
         "layer": [
          {"data": {"name": "b7"}, "mark": "line"},
          {"data": {"name": "peaks"}, "transform": [{"filter": "datum.s === 'b7'"}], "mark": {"type": "text", "baseline": "middle"}, "encoding": {"text": {"field": "name"}}},
          {"data": {"name": "eic"}, "transform": [{"filter": "datum.s === 'b7'"}], "mark": {"type": "text", "align": "right", "baseline": "top", "dx": -3, "dy": 5},
           "encoding": {"text": {"field": "label"},
            "x": {"datum": 6.07, "type": "quantitative",
                  "axis": {"title": "Time (min)", "titleFontSize": 24, "titlePadding": 5, "titleX": 488,
                           "labels": true, "ticks": true, "tickSize": 3, "labelPadding": 5, "labelFontSize": 23, "domainWidth": 1,
                           "labelOverlap": false, "labelFlush": false,
                           "values": [0,0.2,0.4,0.6,0.8,1,1.2,1.4,1.6,1.8,2,2.2,2.4,2.6,2.8,3,3.2,3.4,3.6,3.8,4,4.2,4.4,4.6,4.8,5,5.2,5.4,5.6,5.8,6],
                           "labelExpr": "datum.value % 1 === 0 ? format(datum.value, 'd') : ''",
                           "labelAlign": {"condition": {"test": "datum.value === 0", "value": "right"}, "value": "center"},
                           "labelBaseline": {"condition": {"test": "datum.value === 0", "value": "middle"}, "value": "top"}}},
            "y": {"datum": 21100, "type": "quantitative", "axis": {"values": [10000], "format": "d", "title": null}}}}
        ]}
      ]
    }
  ]
}
